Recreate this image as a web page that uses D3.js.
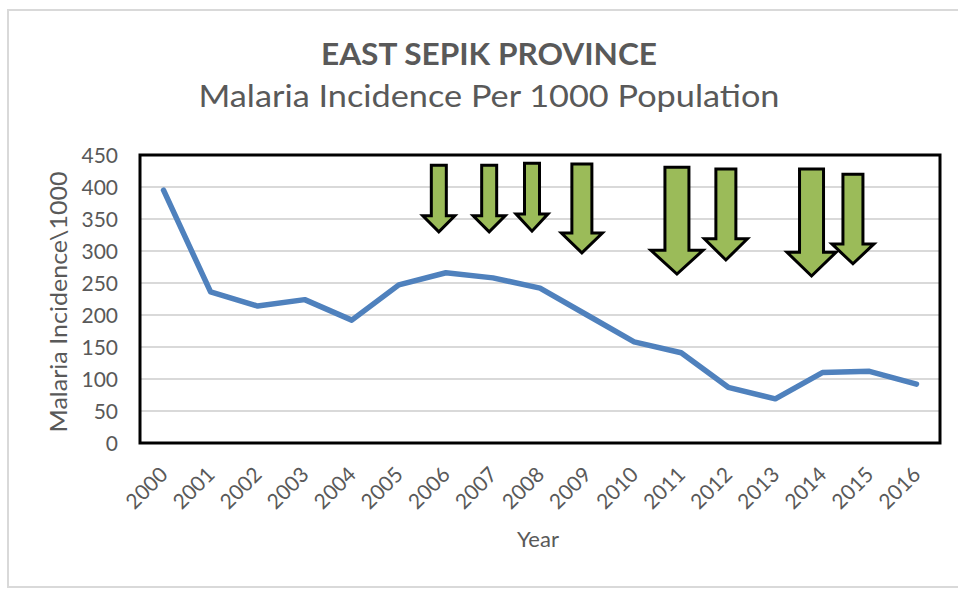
<!DOCTYPE html>
<html>
<head>
<meta charset="utf-8">
<script src="https://cdn.jsdelivr.net/npm/d3@7"></script>
<style>
  html, body { margin: 0; padding: 0; background: #ffffff; }
  svg { display: block; }
  text { font-family: Lato, "Open Sans", sans-serif; fill: #595959; }
</style>
</head>
<body>
<svg id="chart" width="958" height="590"></svg>
<script>
// ---- data ----
const years = ["2000","2001","2002","2003","2004","2005","2006","2007","2008",
               "2009","2010","2011","2012","2013","2014","2015","2016"];
const incidence = [395, 236, 214, 224, 192, 247, 266, 258, 242,
                   200, 158, 141, 87, 69, 110, 112, 92];
const yTicks = [0, 50, 100, 150, 200, 250, 300, 350, 400, 450];
const chartTitle = "EAST SEPIK PROVINCE";
const chartSubtitle = "Malaria Incidence Per 1000 Population";
const xAxisTitle = "Year";
const yAxisTitle = "Malaria Incidence\\1000";
// intervention arrows: position in year-index units, values in axis units
const arrowAt    = [5.85, 6.92, 7.83, 8.89, 10.91, 11.95, 13.77, 14.65];
const arrowTop   = [434, 434, 437, 436, 431, 428, 428, 420];
const arrowNeck  = [355, 355, 358, 328, 301, 319, 298, 311];
const arrowTip   = [330, 330, 331, 297, 264, 286, 261, 280];
const arrowShaft = [15, 15, 15, 20, 24, 20, 24, 20];
const arrowHead  = [32, 32, 32, 41, 52, 43, 49, 42];

// ---- layout ----
const W = 958, H = 590;
const plot = { left: 140, right: 940, top: 155, bottom: 443 };
const svg = d3.select("#chart");

// outer frame
svg.append("rect")
  .attr("x", 8).attr("y", 10).attr("width", 960).attr("height", 577)
  .attr("fill", "#fff").attr("stroke", "#d9d9d9").attr("stroke-width", 2);

const x = d3.scalePoint().domain(years).range([plot.left, plot.right]).padding(0.5);
const xi = d3.scaleLinear().domain([0, years.length - 1])
  .range([x(years[0]), x(years[years.length - 1])]);
const y = d3.scaleLinear().domain([0, 450]).range([plot.bottom, plot.top]);

// gridlines
svg.append("g").selectAll("line").data(yTicks.filter(t => t > 0 && t < 450)).join("line")
  .attr("x1", plot.left).attr("x2", plot.right)
  .attr("y1", d => y(d)).attr("y2", d => y(d))
  .attr("stroke", "#d9d9d9").attr("stroke-width", 2);

// plot border
svg.append("rect")
  .attr("x", plot.left).attr("y", plot.top)
  .attr("width", plot.right - plot.left).attr("height", plot.bottom - plot.top)
  .attr("fill", "none").attr("stroke", "#000").attr("stroke-width", 3);

// y axis
const yAxis = svg.append("g").attr("transform", `translate(${plot.left},0)`)
  .call(d3.axisLeft(y).tickValues(yTicks).tickSize(0).tickPadding(22));
yAxis.select(".domain").remove();
yAxis.selectAll("text").style("font-family", "Lato").style("font-size", "21px")
  .attr("fill", "#595959").attr("dy", "0.36em");

// x axis
const xAxis = svg.append("g").attr("transform", `translate(0,${plot.bottom})`)
  .call(d3.axisBottom(x).tickSize(0).tickPadding(0));
xAxis.select(".domain").remove();
xAxis.selectAll("text")
  .style("font-family", "Lato").style("font-size", "21px").attr("fill", "#595959")
  .attr("text-anchor", "end")
  .attr("y", 0).attr("dy", 0)
  .attr("transform", "translate(5,33) rotate(-45)");

// line
svg.append("path")
  .datum(incidence)
  .attr("fill", "none").attr("stroke", "#4f81bd").attr("stroke-width", 5.5)
  .attr("stroke-linejoin", "round").attr("stroke-linecap", "round")
  .attr("d", d3.line().x((d, i) => x(years[i])).y(d => y(d)));

// arrows
svg.append("g").selectAll("path").data(arrowAt).join("path")
  .attr("fill", "#9bbb59").attr("stroke", "#000").attr("stroke-width", 3)
  .attr("stroke-linejoin", "miter")
  .attr("d", (d, i) => {
    const cx = xi(d), s = arrowShaft[i] / 2, h = arrowHead[i] / 2;
    const t = y(arrowTop[i]), n = y(arrowNeck[i]), p = y(arrowTip[i]);
    return `M${cx - s},${t}L${cx + s},${t}L${cx + s},${n}L${cx + h},${n}L${cx},${p}L${cx - h},${n}L${cx - s},${n}Z`;
  });

// titles
svg.append("text").attr("x", 489).attr("y", 65).attr("text-anchor", "middle")
  .style("font-size", "30px").style("font-weight", "bold")
  .attr("textLength", 336).attr("lengthAdjust", "spacingAndGlyphs").text(chartTitle);
svg.append("text").attr("x", 489).attr("y", 107).attr("text-anchor", "middle")
  .style("font-size", "30px")
  .attr("textLength", 581).attr("lengthAdjust", "spacingAndGlyphs").text(chartSubtitle);
svg.append("text").attr("x", 538).attr("y", 547).attr("text-anchor", "middle")
  .style("font-size", "22px").text(xAxisTitle);
svg.append("text").attr("transform", "translate(67,302) rotate(-90)")
  .attr("text-anchor", "middle").style("font-size", "23px")
  .attr("textLength", 261).attr("lengthAdjust", "spacingAndGlyphs").text(yAxisTitle);
</script>
</body>
</html>
